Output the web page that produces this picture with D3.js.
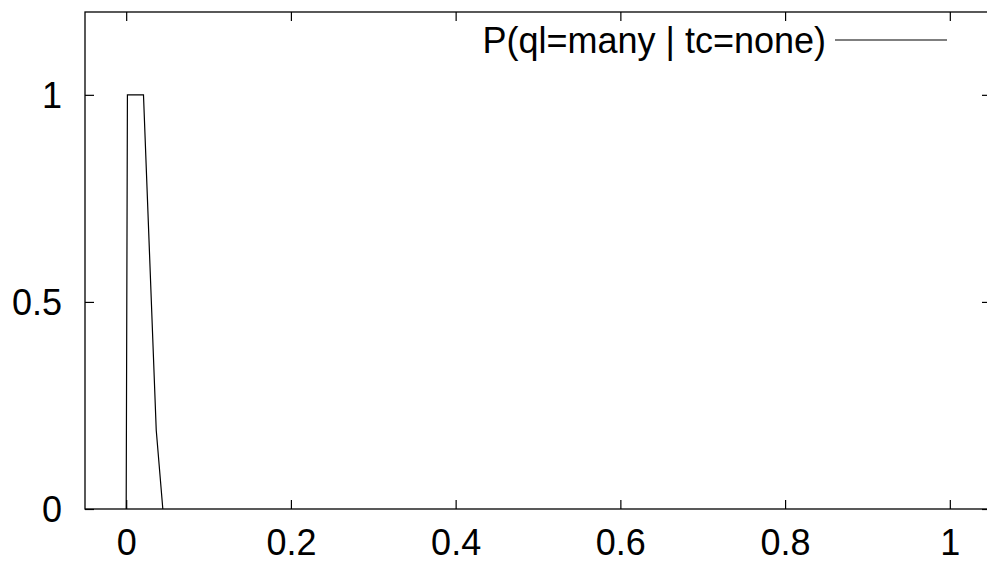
<!DOCTYPE html>
<html><head><meta charset="utf-8">
<script src="https://cdn.jsdelivr.net/npm/d3@7"></script>
<style>body{margin:0;background:#fff;} text{font-family:"Liberation Sans",Arial,sans-serif;}</style>
</head><body>
<svg id="c" width="987" height="567"></svg>
<script>
const seriesName = "P(ql=many | tc=none)";
const xValues = [0, 0.0015, 0.021, 0.0365, 0.0445];
const yValues = [0, 1, 1, 0.19, 0];
const xTicks = [0, 0.2, 0.4, 0.6, 0.8, 1];
const yTicks = [0, 0.5, 1];

const svg = d3.select("#c");
const L = 85, T = 12, B = 509, R = 991;
const x = d3.scaleLinear().domain([-0.05, 1.05]).range([L, R]);
const y = d3.scaleLinear().domain([0, 1.2]).range([B, T]);
const fs = 36, tl = 9;

// frame
svg.append("rect").attr("x", L).attr("y", T).attr("width", R - L).attr("height", B - T)
  .attr("fill", "none").attr("stroke", "#000").attr("stroke-width", 1.3);

// axes
const fmt = d => d3.format("~g")(d);
const xb = svg.append("g").attr("transform", `translate(0,${B})`)
  .call(d3.axisBottom(x).tickValues(xTicks).tickFormat(fmt).tickSize(-tl).tickPadding(20));
const xt = svg.append("g").attr("transform", `translate(0,${T})`)
  .call(d3.axisTop(x).tickValues(xTicks).tickFormat("").tickSize(-tl));
const yl = svg.append("g").attr("transform", `translate(${L},0)`)
  .call(d3.axisLeft(y).tickValues(yTicks).tickFormat(fmt).tickSize(-tl).tickPadding(23));
const yr = svg.append("g").attr("transform", `translate(${R},0)`)
  .call(d3.axisRight(y).tickValues(yTicks).tickFormat("").tickSize(-tl));
[xb, xt, yl, yr].forEach(g => {
  g.select(".domain").remove();
  g.selectAll(".tick line").attr("stroke", "#000").attr("stroke-width", 1.2);
  g.selectAll("text").attr("fill", "#000").style("font-size", fs + "px")
    .style("font-family", "'Liberation Sans', Arial, sans-serif");
});
yl.selectAll(".tick text").attr("dy", "0.35em");

// data line
const pts = xValues.map((v, i) => [v, yValues[i]]);
svg.append("path").datum(pts)
  .attr("d", d3.line().x(d => x(d[0])).y(d => y(d[1])))
  .attr("fill", "none").attr("stroke", "#000").attr("stroke-width", 1.2);

// legend
svg.append("text").attr("x", 826).attr("y", 40).attr("dy", "0.35em")
  .attr("text-anchor", "end").style("font-size", fs + "px").text(seriesName);
svg.append("line").attr("x1", 835).attr("x2", 947).attr("y1", 40).attr("y2", 40)
  .attr("stroke", "#000").attr("stroke-width", 1.2);
</script>
</body></html>
